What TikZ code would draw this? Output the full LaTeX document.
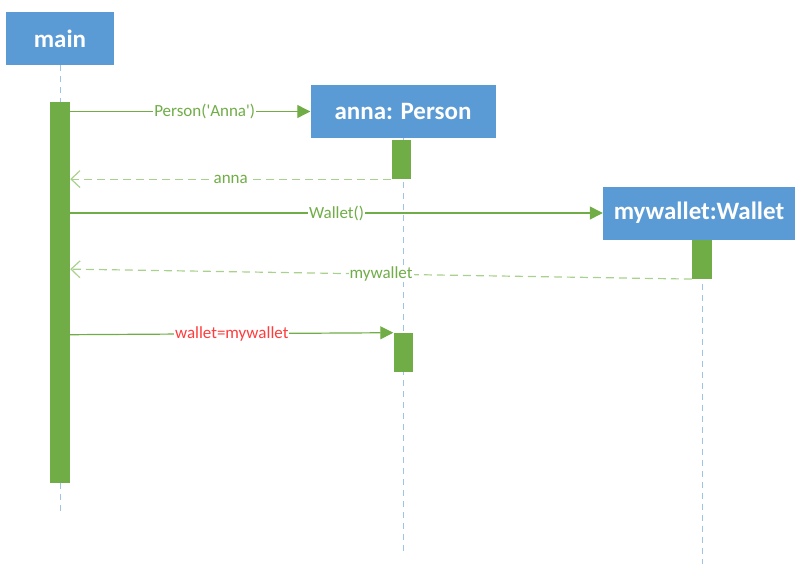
\documentclass[tikz,border=0pt]{standalone}
\usepackage{fontspec}
\setmainfont{Carlito}
\usepackage{tikz}
\usetikzlibrary{shapes,arrows,arrows.meta}
\usetikzlibrary{positioning}
\usetikzlibrary{calc}
\definecolor{myblue}{RGB}{91,155,213}
\definecolor{mylineblue}{RGB}{157,195,230}
\definecolor{mygreen}{RGB}{112,173,71}
\definecolor{mylightgreen}{RGB}{169,209,142}
\definecolor{myred}{RGB}{255,60,60}
\newcommand\myobj[4][]{%
  \node[myobj,#1,minimum width=#2pt] (#3) {#4};
}
\newcommand\mybar[3][]{%
  \node[mybar,#1,minimum height=#2pt] (#3) {};
}

\begin{document}
\begin{tikzpicture}[
x=1pt, y=-1pt,
myobj/.style={
  rectangle,
  fill=myblue,
  text=white,
  font=\fontsize{25}{30}\selectfont\bfseries,
  minimum height=53pt,
  inner sep=0pt},
mybar/.style={
  rectangle,
  fill=mygreen,
  minimum width=20pt,
  inner sep=0pt},
lifeline/.style={
  draw=mylineblue,
  line width=1pt,
  dash pattern=on 6pt off 5pt},
msg/.style={
  draw=mygreen,
  line width=1.2pt,
  -{Triangle[length=13pt,width=13pt]}},
ret/.style={
  draw=mylightgreen,
  line width=1.2pt,
  dash pattern=on 8pt off 5pt,
  -{Straight Barb[length=9pt,width=17pt]}},
lbl/.style={
  fill=white,
  inner sep=1pt,
  text=mygreen,
  font=\fontsize{17}{20}\selectfont}
]
\useasboundingbox (0,0) rectangle (795,565);
% objects
\myobj[at={(60,38.5)}]{108}{main}{main}
\myobj[at={(403,111.5)}]{185}{anna}{anna: Person}
\myobj[at={(699,213)}]{192}{wallet}{mywallet:Wallet}
% lifelines
\draw[lifeline] (main.south) -- ++(0,448);
\draw[lifeline] (anna.south) -- ++(0,417);
\draw[lifeline] ([xshift=3pt]wallet.south) -- ++(0,324);
% activations
\mybar[below=37pt of main]{381}{mainbar}
\mybar[below=1.5pt of anna,xshift=-2pt,minimum width=19pt]{39}{annabar1}
\mybar[below=0pt of wallet,xshift=3pt]{39}{walletbar}
\mybar[below=194.5pt of anna,minimum width=19pt]{39}{annabar2}
% messages
\draw[msg] (mainbar.east |- anna.west) -- node[lbl,pos=0.56]{Person(\textquotesingle Anna\textquotesingle)} (anna.west);
\draw[ret] (annabar1.south west) -- node[lbl]{anna} (mainbar.east |- annabar1.south west);
\draw[msg] (mainbar.east |- wallet.west) -- node[lbl]{Wallet()} (wallet.west);
\coordinate (r2) at ($(mainbar.east |- walletbar.south)+(0,-10)$);
\draw[ret] (walletbar.south west) -- node[lbl]{mywallet} (r2);
\coordinate (c5) at ($(mainbar.east |- annabar2.north)+(0,2)$);
\draw[msg] (c5) -- node[lbl,text=myred]{wallet=mywallet} (annabar2.north west);
\end{tikzpicture}
\end{document}
